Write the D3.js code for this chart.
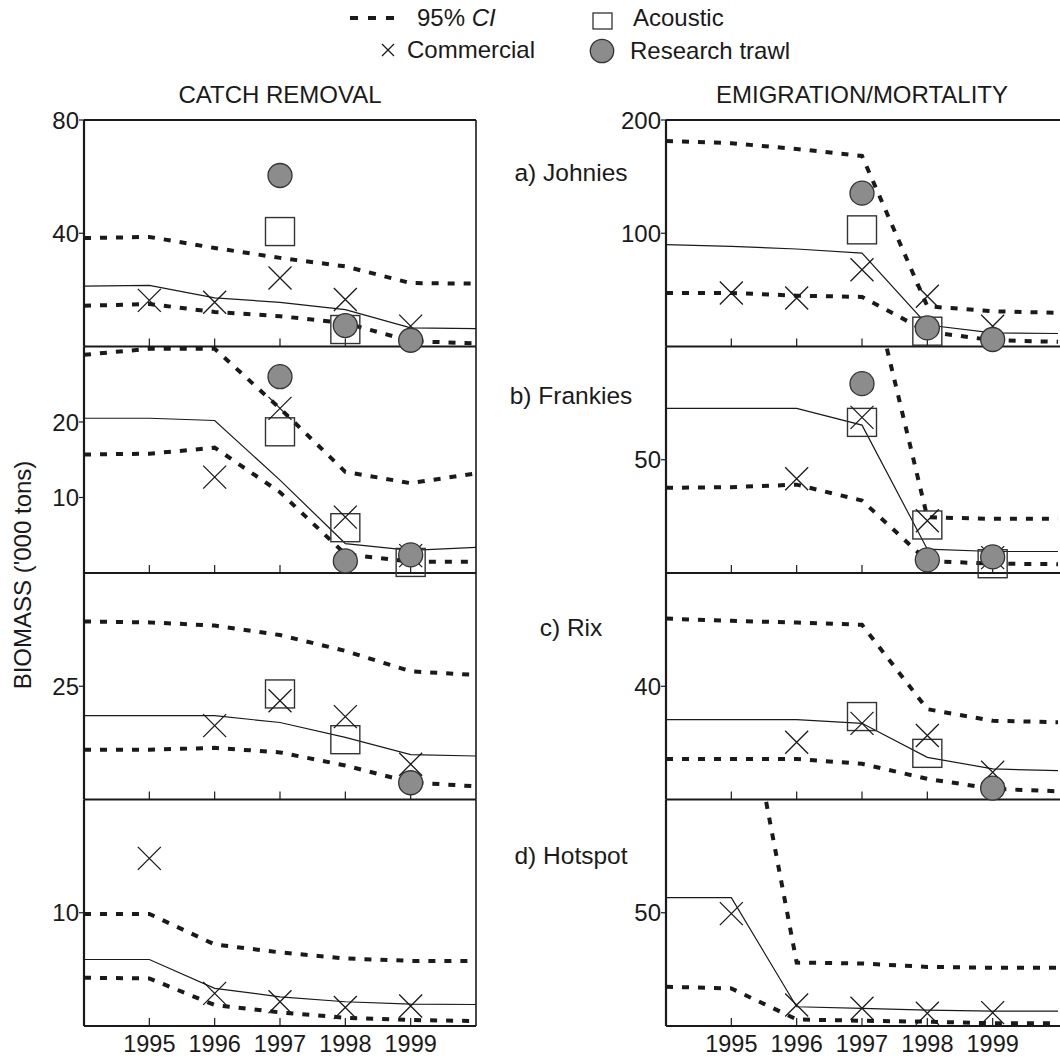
<!DOCTYPE html>
<html><head><meta charset="utf-8">
<script src="https://cdn.jsdelivr.net/npm/d3@7"></script>
<style>
body{margin:0;background:#fff}
svg{display:block}
text{font-family:"Liberation Sans",Arial,Helvetica,sans-serif;fill:#1a1a1a}
</style>
</head><body>
<svg id="chart" width="1060" height="1058"></svg>
<script>
// ---------------- DATA ----------------
const tickYears = [1995, 1996, 1997, 1998, 1999];
const modelYears = [1994, 1995, 1996, 1997, 1998, 1999, 2000];
const columnTitles = ["CATCH REMOVAL", "EMIGRATION/MORTALITY"];
const stockLabels = ["a) Johnies", "b) Frankies", "c) Rix", "d) Hotspot"];
const yLabel = "BIOMASS ('000 tons)";

// y-axis maxima and tick values per stock
const catchMax = [80, 30, 50, 20];
const emigMax = [200, 100, 80, 100];
const catchTicks = [[40, 80], [10, 20], [25], [10]];
const emigTicks = [[100, 200], [50], [40], [50]];

// CATCH REMOVAL model (values at modelYears)
const catchMean = [
  [21.3, 21.6, 17.2, 15.6, 13.0, 6.6, 6.3],
  [20.5, 20.5, 20.2, 12.3, 3.9, 3.0, 3.4],
  [18.5, 18.5, 18.5, 17.0, 13.7, 9.9, 9.6],
  [5.87, 5.87, 3.32, 2.58, 2.14, 1.94, 1.9]
];
const catchUpper = [
  [38.3, 38.7, 34.8, 31.3, 28.3, 22.4, 22.2],
  [28.9, 29.7, 29.7, 21.8, 13.4, 11.9, 13.2],
  [39.3, 39.1, 38.4, 36.3, 32.8, 28.3, 27.5],
  [9.9, 9.9, 7.2, 6.5, 5.96, 5.75, 5.75]
];
const catchLower = [
  [14.4, 15.0, 12.2, 10.7, 8.3, 1.9, 1.1],
  [15.7, 15.8, 16.6, 10.7, 2.5, 1.5, 1.5],
  [11.0, 11.0, 11.4, 10.4, 7.5, 3.8, 2.9],
  [4.26, 4.2, 1.85, 1.2, 0.73, 0.53, 0.44]
];
// CATCH REMOVAL observations (values at tickYears)
const catchCommercial = [
  [16.3, 15.6, 24.2, 16.6, 7.2],
  [null, 12.7, 21.8, 7.4, 2.3],
  [null, 16.3, 21.8, 18.3, 7.8],
  [14.8, 2.88, 2.14, 1.64, 1.76]
];
const catchAcoustic = [
  [null, null, 40.6, 6.0, null],
  [null, null, 18.7, 6.0, 1.4],
  [null, null, 23.3, 13.2, null],
  [null, null, null, null, null]
];
const catchTrawl = [
  [null, null, 60.4, 7.4, 2.2],
  [null, null, 26.0, 1.6, 2.4],
  [null, null, null, null, 3.7],
  [null, null, null, null, null]
];

// EMIGRATION/MORTALITY model
const emigMean = [
  [89.9, 88.4, 86.1, 82.5, 19.0, 12.0, 11.5],
  [72.7, 72.7, 72.7, 65.3, 10.5, 9.5, 9.5],
  [28.2, 28.2, 28.2, 26.9, 14.9, 10.8, 10.2],
  [56.7, 56.7, 8.5, 7.8, 7.0, 6.6, 6.6]
];
const emigUpper = [
  [181.5, 179.5, 174.4, 168.3, 35.5, 31.1, 29.7],
  [150, 150, 150, 145, 24.6, 23.9, 23.9],
  [63.9, 63.1, 62.5, 61.7, 31.9, 27.8, 27.3],
  [190, 180, 28.0, 27.6, 26.1, 25.7, 25.7]
];
const emigLower = [
  [47.3, 47.3, 44.9, 43.8, 13.0, 5.6, 4.1],
  [37.6, 37.9, 39.0, 32.0, 5.3, 4.1, 3.9],
  [14.3, 14.3, 14.3, 12.6, 7.3, 3.8, 2.9],
  [17.3, 16.6, 2.9, 2.3, 1.9, 1.2, 1.2]
];
const emigCommercial = [
  [47.3, 42.9, 67.8, 44.3, 17.9],
  [null, 41.6, 68.7, 23.1, 6.8],
  [null, 20.2, 26.9, 22.6, 9.6],
  [49.6, 9.3, 7.8, 5.6, 5.9]
];
const emigAcoustic = [
  [null, null, 103, 13.5, null],
  [null, null, 66.5, 21.2, 4.1],
  [null, null, 29.3, 16.3, null],
  [null, null, null, null, null]
];
const emigTrawl = [
  [null, null, 135.4, 16.4, 6.2],
  [null, null, 83.6, 5.8, 7.1],
  [null, null, null, null, 4.0],
  [null, null, null, null, null]
];

const legendItems = ["95% CI", "Commercial", "Acoustic", "Research trawl"];

// ---------------- DRAW ----------------
const svg = d3.select("#chart");
const ink = "#1a1a1a";
const colLeft = [84, 666];
const colWidth = 392;
const panelTop = 120, panelH = 226.5;
const fontSize = 24;

const columns = [
  {title: columnTitles[0], max: catchMax, ticks: catchTicks, mean: catchMean, up: catchUpper, lo: catchLower,
   com: catchCommercial, ac: catchAcoustic, tr: catchTrawl, rightBorder: true},
  {title: columnTitles[1], max: emigMax, ticks: emigTicks, mean: emigMean, up: emigUpper, lo: emigLower,
   com: emigCommercial, ac: emigAcoustic, tr: emigTrawl, rightBorder: false}
];

const defs = svg.append("defs");

function drawX(g, cx, cy, s) {
  g.append("path")
    .attr("d", `M${cx - s},${cy - s}L${cx + s},${cy + s}M${cx - s},${cy + s}L${cx + s},${cy - s}`)
    .attr("stroke", ink).attr("stroke-width", 1.3).attr("fill", "none");
}

columns.forEach((col, c) => {
  const x = d3.scaleLinear().domain([1994, 2000]).range([colLeft[c], colLeft[c] + colWidth]);
  const x0 = colLeft[c], x1 = colLeft[c] + colWidth;
  const xEdge = col.rightBorder ? x1 : 1060;

  // column title
  svg.append("text").attr("x", (x0 + x1) / 2).attr("y", 103)
    .attr("text-anchor", "middle").attr("font-size", fontSize).text(col.title);

  stockLabels.forEach((lab, i) => {
    const top = panelTop + i * panelH, bot = top + panelH;
    const y = d3.scaleLinear().domain([0, col.max[i]]).range([bot, top]);
    const g = svg.append("g");

    const clipId = `clip-${c}-${i}`;
    defs.append("clipPath").attr("id", clipId)
      .append("rect").attr("x", x0).attr("y", top).attr("width", xEdge - x0).attr("height", panelH);

    const line = d3.line().x((d, k) => x(modelYears[k])).y(d => y(d));
    const lines = g.append("g").attr("clip-path", `url(#${clipId})`);
    [col.up[i], col.lo[i]].forEach(arr => {
      lines.append("path").attr("d", line(arr)).attr("fill", "none")
        .attr("stroke", ink).attr("stroke-width", 4).attr("stroke-dasharray", "7,9");
    });
    lines.append("path").attr("d", line(col.mean[i])).attr("fill", "none")
      .attr("stroke", ink).attr("stroke-width", 1.2);

    // x ticks (inward) at bottom of panel
    tickYears.forEach(yr => {
      g.append("line").attr("x1", x(yr)).attr("x2", x(yr)).attr("y1", bot).attr("y2", bot - 8)
        .attr("stroke", ink).attr("stroke-width", 1.2);
    });

    // borders
    g.append("line").attr("x1", x0).attr("x2", x0).attr("y1", top).attr("y2", bot)
      .attr("stroke", ink).attr("stroke-width", 2.2);
    if (col.rightBorder) {
      g.append("line").attr("x1", x1).attr("x2", x1).attr("y1", top).attr("y2", bot)
        .attr("stroke", ink).attr("stroke-width", 1.6);
    }
    g.append("line").attr("x1", x0).attr("x2", xEdge).attr("y1", bot).attr("y2", bot)
      .attr("stroke", ink).attr("stroke-width", 2);
    if (i === 0) {
      g.append("line").attr("x1", x0).attr("x2", xEdge).attr("y1", top).attr("y2", top)
        .attr("stroke", ink).attr("stroke-width", 2);
    }

    // y ticks
    col.ticks[i].forEach(t => {
      g.append("line").attr("x1", x0 - 5).attr("x2", x0).attr("y1", y(t)).attr("y2", y(t))
        .attr("stroke", ink).attr("stroke-width", 1.2);
      g.append("text").attr("x", x0 - 5).attr("y", y(t)).attr("dy", "0.36em")
        .attr("text-anchor", "end").attr("font-size", fontSize).text(t);
    });

    // markers: acoustic squares, commercial X, trawl circles
    const mk = g.append("g");
    col.ac[i].forEach((v, k) => {
      if (v == null) return;
      mk.append("rect").attr("x", x(tickYears[k]) - 14.5).attr("y", y(v) - 14)
        .attr("width", 29).attr("height", 28).attr("fill", "none")
        .attr("stroke", "#333").attr("stroke-width", 1.4);
    });
    col.com[i].forEach((v, k) => {
      if (v == null) return;
      drawX(mk, x(tickYears[k]), y(v), 11.5);
    });
    col.tr[i].forEach((v, k) => {
      if (v == null) return;
      mk.append("circle").attr("cx", x(tickYears[k])).attr("cy", y(v)).attr("r", 12)
        .attr("fill", "#8c8c8c").attr("stroke", "#333").attr("stroke-width", 1.3);
    });

    // x tick labels on bottom panel
    if (i === stockLabels.length - 1) {
      tickYears.forEach(yr => {
        g.append("text").attr("x", x(yr)).attr("y", 1044).attr("dy", "0.36em")
          .attr("text-anchor", "middle").attr("font-size", 23.5).text(yr);
      });
    }
  });
});

// stock labels between columns
const labelY = [172, 395, 627, 855];
stockLabels.forEach((lab, i) => {
  svg.append("text").attr("x", 571).attr("y", labelY[i]).attr("dy", "0.36em")
    .attr("text-anchor", "middle").attr("font-size", 24.5).text(lab);
});

// y-axis title
svg.append("text").attr("transform", "translate(31,575) rotate(-90)")
  .attr("text-anchor", "middle").attr("font-size", 24).text(yLabel);

// legend
const lg = svg.append("g");
lg.append("line").attr("x1", 350).attr("x2", 398).attr("y1", 18).attr("y2", 18)
  .attr("stroke", ink).attr("stroke-width", 4).attr("stroke-dasharray", "8,10");
const t1 = lg.append("text").attr("x", 417).attr("y", 26).attr("font-size", 24);
t1.append("tspan").text("95% ");
t1.append("tspan").attr("font-style", "italic").text("CI");
drawX(lg, 388, 50, 6);
lg.append("text").attr("x", 407).attr("y", 58).attr("font-size", 24).text(legendItems[1]);
lg.append("rect").attr("x", 593).attr("y", 13).attr("width", 19).attr("height", 16)
  .attr("fill", "#fff").attr("stroke", "#333").attr("stroke-width", 1.3);
lg.append("text").attr("x", 633).attr("y", 26).attr("font-size", 24).text(legendItems[2]);
lg.append("circle").attr("cx", 602).attr("cy", 51).attr("r", 11.7)
  .attr("fill", "#8c8c8c").attr("stroke", "#333").attr("stroke-width", 1.3);
lg.append("text").attr("x", 630).attr("y", 59).attr("font-size", 24).text(legendItems[3]);
</script>
</body></html>
